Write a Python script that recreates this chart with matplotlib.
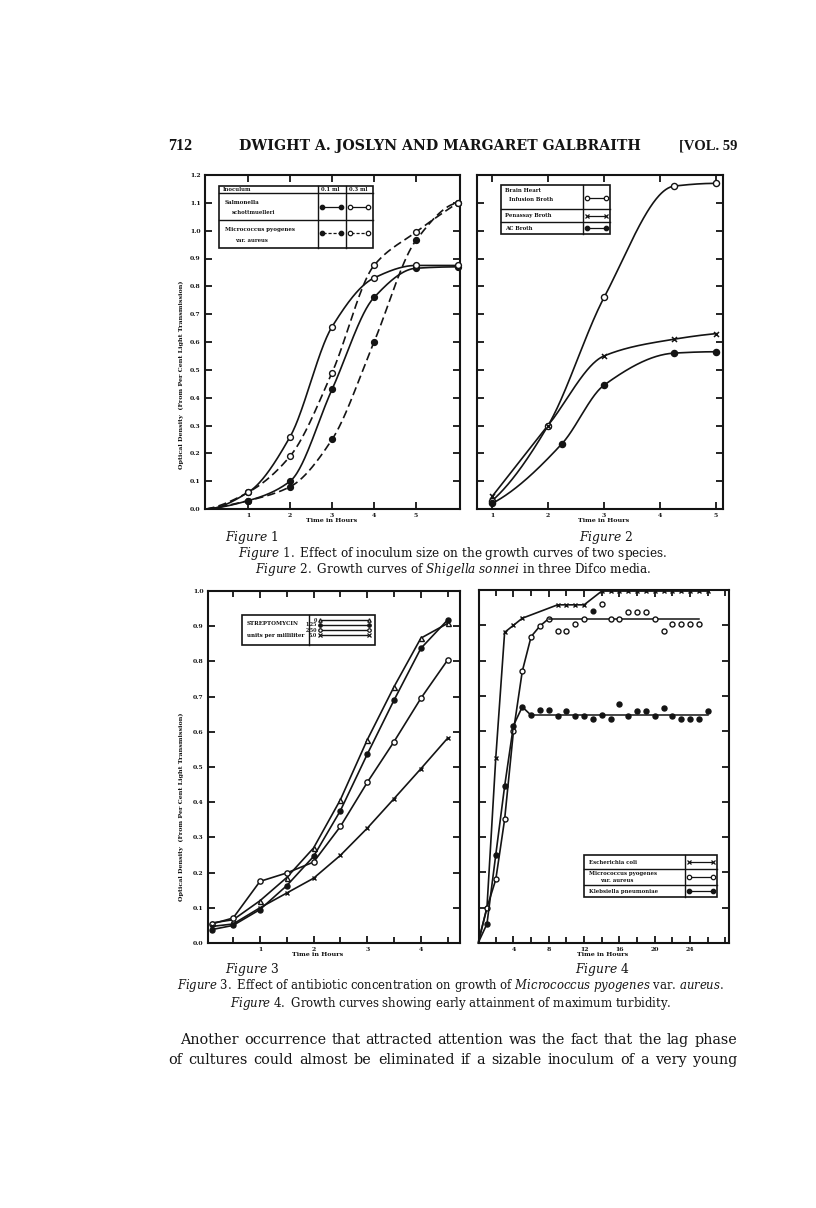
import numpy as np
import matplotlib
matplotlib.use("Agg")
import matplotlib.pyplot as plt
from matplotlib.lines import Line2D
from matplotlib.patches import Rectangle

plt.rcParams.update({
    "font.family": "DejaVu Serif",
    "mathtext.fontset": "custom",
    "mathtext.rm": "DejaVu Serif",
    "mathtext.it": "DejaVu Serif:italic",
    "mathtext.bf": "DejaVu Serif:bold",
})

# ---------------- data ----------------
# Figure 1: inoculum size
f1_hours = [0, 1, 2, 3, 4, 5, 6]
f1_salm_01 = [0.0, 0.03, 0.10, 0.43, 0.76, 0.865, 0.87]
f1_salm_03 = [0.0, 0.06, 0.26, 0.655, 0.83, 0.875, 0.875]
f1_micro_01 = [0.0, 0.03, 0.08, 0.25, 0.60, 0.965, 1.10]
f1_micro_03 = [0.0, 0.06, 0.19, 0.49, 0.875, 0.995, 1.10]
f1_xticks = [1, 2, 3, 4, 5]
f1_yticks = [0.0, 0.1, 0.2, 0.3, 0.4, 0.5, 0.6, 0.7, 0.8, 0.9, 1.0, 1.1, 1.2]
f1_ylabels = ["0.0", "0.1", "0.2", "0.3", "0.4", "0.5", "0.6", "0.7", "0.8",
              "0.9", "1.0", "1.1", "1.2"]

# Figure 2: Shigella sonnei in three media
f2_bh_t = [1, 2, 3, 4.25, 5]
f2_bh = [0.03, 0.30, 0.76, 1.16, 1.17]
f2_pen_t = [1, 2, 3, 4.25, 5]
f2_pen = [0.045, 0.30, 0.55, 0.61, 0.63]
f2_ac_t = [1, 2.25, 3, 4.25, 5]
f2_ac = [0.02, 0.235, 0.445, 0.56, 0.565]
f2_xticks = [1, 2, 3, 4, 5]

# Figure 3: streptomycin
f3_t = [0.1, 0.5, 1.0, 1.5, 2.0, 2.5, 3.0, 3.5, 4.0, 4.5]
f3_s0 = [0.057, 0.066, 0.12, 0.186, 0.27, 0.407, 0.577, 0.728, 0.866, 0.908]
f3_s125 = [0.038, 0.05, 0.095, 0.163, 0.246, 0.376, 0.536, 0.69, 0.837, 0.918]
f3_s250 = [0.054, 0.071, 0.175, 0.199, 0.23, 0.331, 0.456, 0.572, 0.695, 0.804]
f3_s50 = [0.047, 0.054, 0.10, 0.142, 0.184, 0.249, 0.326, 0.41, 0.495, 0.582]
f3_xticks = [1, 2, 3, 4]
f3_yticks = [0.0, 0.1, 0.2, 0.3, 0.4, 0.5, 0.6, 0.7, 0.8, 0.9, 1.0]
f3_ylabels = ["0.0", "0.1", "0.2", "0.3", "0.4", "0.5", "0.6", "0.7", "0.8",
              "0.9", "1.0"]

# Figure 4: early attainment of maximum turbidity
f4_ecoli_t = [0, 1, 2, 3, 4, 5, 9, 10, 11, 12, 14, 15, 16, 17, 18, 19, 20,
              21, 22, 23, 24, 25, 26]
f4_ecoli = [0.0, 0.10, 0.525, 0.88, 0.90, 0.92, 0.958, 0.958, 0.958, 0.958,
            0.997, 0.997, 0.997, 0.997, 0.997, 0.997, 0.997, 0.997, 0.997,
            0.997, 0.997, 0.997, 0.997]
f4_micro_t = [0, 1, 2, 3, 4, 5, 6, 7, 8]
f4_micro = [0.0, 0.10, 0.18, 0.35, 0.60, 0.77, 0.868, 0.898, 0.919]
f4_micro_level = 0.919
f4_micro_end = 25
f4_micro_on_t = [12, 15, 16, 20]
f4_micro_off_t = [9, 10, 11, 14, 17, 18, 19, 21, 22, 23, 24, 25]
f4_micro_off = [0.884, 0.884, 0.904, 0.961, 0.939, 0.939, 0.939, 0.884,
                0.904, 0.904, 0.905, 0.905]
f4_micro_dark_t = [13]
f4_micro_dark = [0.94]
f4_kleb_t = [0, 1, 2, 3, 4, 5, 6]
f4_kleb = [0.0, 0.054, 0.25, 0.444, 0.616, 0.669, 0.645]
f4_kleb_level = 0.645
f4_kleb_end = 26
f4_kleb_pt_t = [7, 8, 9, 10, 11, 12, 13, 14, 15, 16, 17, 18, 19, 20, 21, 22,
                23, 24, 25, 26]
f4_kleb_pt = [0.659, 0.659, 0.644, 0.656, 0.644, 0.644, 0.634, 0.646, 0.634,
              0.678, 0.644, 0.656, 0.656, 0.644, 0.666, 0.644, 0.634, 0.634,
              0.634, 0.656]
f4_xticks = [4, 8, 12, 16, 20, 24]
f4_xminor = [2, 6, 10, 14, 18, 22, 26, 28]

body_lines = [
    "Another occurrence that attracted attention was the fact that the lag phase",
    "of cultures could almost be eliminated if a sizable inoculum of a very young",
]

# ---------------- helpers ----------------
W, H = 816, 1208
INK = "#141414"
fig = plt.figure(figsize=(W / 100, H / 100), dpi=100)
fig.patch.set_facecolor("white")


def add_ax(l, t, r, b):
    return fig.add_axes([l / W, 1 - b / H, (r - l) / W, (b - t) / H])


def pchip(x, y, xs):
    x = np.asarray(x, float)
    y = np.asarray(y, float)
    h = np.diff(x)
    d = np.diff(y) / h
    n = len(x)
    m = np.zeros(n)
    for k in range(1, n - 1):
        if d[k - 1] * d[k] > 0:
            w1 = 2 * h[k] + h[k - 1]
            w2 = h[k] + 2 * h[k - 1]
            m[k] = (w1 + w2) / (w1 / d[k - 1] + w2 / d[k])
    m0 = ((2 * h[0] + h[1]) * d[0] - h[0] * d[1]) / (h[0] + h[1])
    if np.sign(m0) != np.sign(d[0]):
        m0 = 0
    m[0] = m0
    mn = ((2 * h[-1] + h[-2]) * d[-1] - h[-1] * d[-2]) / (h[-1] + h[-2])
    if np.sign(mn) != np.sign(d[-1]):
        mn = 0
    m[-1] = mn
    xs = np.asarray(xs, float)
    i = np.clip(np.searchsorted(x, xs) - 1, 0, n - 2)
    t = (xs - x[i]) / h[i]
    h00 = 2 * t**3 - 3 * t**2 + 1
    h10 = t**3 - 2 * t**2 + t
    h01 = -2 * t**3 + 3 * t**2
    h11 = t**3 - t**2
    return h00 * y[i] + h10 * h[i] * m[i] + h01 * y[i + 1] + h11 * h[i] * m[i + 1]


def style_axes(ax):
    for s in ax.spines.values():
        s.set_linewidth(1.5)
        s.set_color(INK)
    ax.tick_params(which="both", direction="in", top=True, right=True,
                   color=INK, width=1.3, labelsize=4.4, pad=3)
    ax.tick_params(which="major", length=5)
    ax.tick_params(which="minor", length=4)
    for lab in ax.get_xticklabels() + ax.get_yticklabels():
        lab.set_fontweight("bold")
        lab.set_color(INK)


def ftext(x, y, s, size=4.2, weight="bold", ha="left", va="center", **kw):
    return fig.text(x / W, 1 - y / H, s, fontsize=size, fontweight=weight,
                    ha=ha, va=va, color=INK, **kw)


def fline(x0, x1, y, ls="-", lw=1.0):
    fig.add_artist(Line2D([x0 / W, x1 / W], [1 - y / H, 1 - y / H],
                          color=INK, lw=lw, ls=ls))


def fmark(x, y, marker, filled, ms=3.2):
    fig.add_artist(Line2D([x / W], [1 - y / H], marker=marker, ms=ms,
                          mfc=INK if filled else "white", mec=INK, mew=0.9,
                          ls="none"))


def fbox(l, t, r, b, lw=1.2):
    fig.add_artist(Rectangle((l / W, 1 - b / H), (r - l) / W, (b - t) / H,
                             fill=False, ec=INK, lw=lw))


def fvline(x, t, b, lw=1.0):
    fig.add_artist(Line2D([x / W, x / W], [1 - t / H, 1 - b / H],
                          color=INK, lw=lw))


def justify(x0, x1, y, s, size):
    r = fig.canvas.get_renderer()
    words = s.split()
    ts = [ftext(0, y, w, size=size, weight="normal") for w in words]
    widths = [t.get_window_extent(r).width for t in ts]
    gap = (x1 - x0 - sum(widths)) / (len(words) - 1)
    x = x0
    for t, w in zip(ts, widths):
        t.set_x(x / W)
        x += w + gap


# ---------------- Figure 1 ----------------
ax1 = add_ax(205, 175, 460, 509)
ax1.set_xlim(-0.03, 6.05)
ax1.set_ylim(0, 1.2)
xs = np.linspace(0, 6, 300)
curves1 = [(f1_salm_01, "-", True), (f1_salm_03, "-", False),
           (f1_micro_01, (0, (5, 2.5)), True), (f1_micro_03, (0, (5, 2.5)), False)]
for vals, ls, filled in curves1:
    ax1.plot(xs, pchip(f1_hours, vals, xs), color=INK, lw=1.2, ls=ls)
    ax1.plot(f1_hours[1:], vals[1:], ls="none", marker="o", ms=4.2,
             mfc=INK if filled else "white", mec=INK, mew=1.0, clip_on=False,
             zorder=5)
ax1.set_xticks(f1_xticks)
ax1.set_xticklabels([str(v) for v in f1_xticks])
ax1.set_yticks(f1_yticks)
ax1.set_yticklabels(f1_ylabels)
style_axes(ax1)
ftext(332, 520, "Time in Hours", size=4.6, ha="center")
ftext(181, 375, "Optical Density  (From Per Cent Light Transmission)",
      size=4.6, ha="center", rotation=90)

# legend table fig 1
fbox(219, 186, 373, 248)
fvline(318, 186, 248)
fvline(346, 186, 248)
fline(219, 373, 193.3, lw=1.0)
fline(219, 373, 220, lw=1.0)
ftext(223, 189.6, "Inoculum", size=3.8)
ftext(321, 189.6, "0.1 ml", size=3.8)
ftext(349, 189.6, "0.3 ml", size=3.8)
ftext(225, 202, "Salmonella", size=4.0)
ftext(232, 212, "schottmuelleri", size=3.8)
ftext(225, 230, "Micrococcus pyogenes", size=4.0)
ftext(235, 240, "var. aureus", size=3.8)
for y, ls in [(207, "-"), (233, (0, (2.5, 1.5)))]:
    fline(323, 340, y, ls=ls, lw=0.9)
    fline(351, 368, y, ls=ls, lw=0.9)
    fmark(322, y, "o", True)
    fmark(341, y, "o", True)
    fmark(350, y, "o", False)
    fmark(368, y, "o", False)

# ---------------- Figure 2 ----------------
ax2 = add_ax(477, 175, 723, 509)
ax2.set_xlim(0.73, 5.125)
ax2.set_ylim(0, 1.2)
for tt, vals, mk, filled in [(f2_bh_t, f2_bh, "o", False),
                             (f2_pen_t, f2_pen, "x", False),
                             (f2_ac_t, f2_ac, "o", True)]:
    xs2 = np.linspace(tt[0], tt[-1], 300)
    ax2.plot(xs2, pchip(tt, vals, xs2), color=INK, lw=1.2)
    if mk == "x":
        ax2.plot(tt, vals, ls="none", marker="x", ms=3.6, mec=INK, mew=1.1,
                 clip_on=False, zorder=5)
    else:
        ax2.plot(tt, vals, ls="none", marker="o", ms=4.4,
                 mfc=INK if filled else "white", mec=INK, mew=1.0,
                 clip_on=False, zorder=5)
ax2.set_xticks(f2_xticks)
ax2.set_xticklabels([str(v) for v in f2_xticks])
ax2.set_yticks(f1_yticks)
ax2.set_yticklabels([])
style_axes(ax2)
ftext(604, 520, "Time in Hours", size=4.6, ha="center")

fbox(500.7, 185, 610, 234)
fvline(583.3, 185, 234)
fline(500.7, 610, 209.3, lw=1.0)
fline(500.7, 610, 221.7, lw=1.0)
ftext(505, 191, "Brain Heart", size=3.9)
ftext(509, 199.5, "Infusion Broth", size=3.9)
ftext(505, 215.5, "Penassay Broth", size=3.9)
ftext(505, 228, "AC Broth", size=3.9)
fline(588, 605, 197.5, lw=0.9)
fmark(587, 197.5, "o", False)
fmark(606, 197.5, "o", False)
fline(588, 605, 215.5, lw=0.9)
fmark(587, 215.5, "x", False, ms=2.8)
fmark(606, 215.5, "x", False, ms=2.8)
fline(588, 605, 228, lw=0.9)
fmark(587, 228, "o", True)
fmark(606, 228, "o", True)

# ---------------- Figure 3 ----------------
ax3 = add_ax(207.7, 591, 460, 943)
ax3.set_xlim(0.026, 4.73)
ax3.set_ylim(0, 1.0)
for vals, mk, filled, ms in [(f3_s0, "^", False, 3.6), (f3_s125, "o", True, 3.6),
                             (f3_s250, "o", False, 3.8), (f3_s50, "x", False, 3.2)]:
    ax3.plot(f3_t, vals, color=INK, lw=1.2, marker=mk, ms=ms,
             mfc=INK if filled else "white", mec=INK, mew=1.0, clip_on=False)
ax3.set_xticks(f3_xticks)
ax3.set_xticklabels([str(v) for v in f3_xticks])
ax3.set_xticks([0.5, 1.5, 2.5, 3.5, 4.5], minor=True)
ax3.set_yticks(f3_yticks)
ax3.set_yticklabels(f3_ylabels)
style_axes(ax3)
ftext(318, 954, "Time in Hours", size=4.6, ha="center")
ftext(181, 807, "Optical Density  (From Per Cent Light Transmission)",
      size=4.6, ha="center", rotation=90)

fbox(241.7, 615, 375, 645)
fvline(309, 615, 645)
ftext(247, 623.3, "STREPTOMYCIN", size=4.0)
ftext(247, 635, "units per milliliter", size=4.0)
leg3 = [("0", "^", False), ("1.25", "o", True), ("2.50", "o", False), ("5.0", "x", False)]
for k, (lab, mk, filled) in enumerate(leg3):
    y = 620 + k * 5
    ftext(317, y, lab, size=3.4, ha="right")
    fline(322, 367, y, lw=1.0)
    fmark(320, y, mk, filled, ms=2.5)
    fmark(369, y, mk, filled, ms=2.5)

# ---------------- Figure 4 ----------------
ax4 = add_ax(479, 590, 729, 943)
ax4.set_xlim(0.1, 28.4)
ax4.set_ylim(0, 1.0)
ax4.plot(f4_ecoli_t, f4_ecoli, color=INK, lw=1.2, marker="x", ms=3.0,
         mew=1.0, markevery=list(range(1, len(f4_ecoli_t))), clip_on=False)
ax4.plot(f4_micro_t, f4_micro, color=INK, lw=1.2, marker="o", ms=3.6,
         mfc="white", mec=INK, mew=1.0, markevery=list(range(1, len(f4_micro_t))))
ax4.plot([f4_micro_t[-1], f4_micro_end], [f4_micro_level, f4_micro_level],
         color=INK, lw=1.1)
ax4.plot(f4_micro_on_t, [f4_micro_level] * len(f4_micro_on_t), ls="none",
         marker="o", ms=3.6, mfc="white", mec=INK, mew=1.0)
ax4.plot(f4_micro_off_t, f4_micro_off, ls="none", marker="o", ms=3.6,
         mfc="white", mec=INK, mew=1.0)
ax4.plot(f4_micro_dark_t, f4_micro_dark, ls="none", marker="o", ms=3.4,
         mfc=INK, mec=INK)
ax4.plot(f4_kleb_t, f4_kleb, color=INK, lw=1.2, marker="o", ms=3.6,
         mfc=INK, mec=INK, markevery=list(range(1, len(f4_kleb_t))))
ax4.plot([f4_kleb_t[-1], f4_kleb_end], [f4_kleb_level, f4_kleb_level],
         color=INK, lw=1.1)
ax4.plot(f4_kleb_pt_t, f4_kleb_pt, ls="none", marker="o", ms=3.6,
         mfc=INK, mec=INK)
ax4.set_xticks(f4_xticks)
ax4.set_xticklabels([str(v) for v in f4_xticks])
ax4.set_xticks(f4_xminor, minor=True)
ax4.set_yticks(f3_yticks)
ax4.set_yticklabels([])
style_axes(ax4)
ftext(603, 954, "Time in Hours", size=4.6, ha="center")

fbox(584, 855, 717.3, 896.7)
fvline(685, 855, 896.7)
fline(584, 717.3, 869.3, lw=1.0)
fline(584, 717.3, 885, lw=1.0)
ftext(589, 862, "Escherichia coli", size=3.9)
ftext(589, 874, "Micrococcus pyogenes", size=3.9)
ftext(600, 880.5, "var. aureus", size=3.9)
ftext(589, 891, "Klebsiella pneumoniae", size=3.9)
fline(690, 712, 862, lw=0.9)
fmark(689, 862, "x", False, ms=2.8)
fmark(713, 862, "x", False, ms=2.8)
fline(690, 712, 877, lw=0.9)
fmark(689, 877, "o", False)
fmark(713, 877, "o", False)
fline(690, 712, 891, lw=0.9)
fmark(689, 891, "o", True)
fmark(713, 891, "o", True)

# ---------------- page text ----------------
ftext(168, 146, "712", size=11.5, weight="bold", ha="left",
      family="Liberation Serif")
ftext(440, 146, "DWIGHT A. JOSLYN AND MARGARET GALBRAITH", size=10.2,
      weight="bold", ha="center")
ftext(737, 146, "[VOL. 59", size=10.5, weight="bold", ha="right",
      family="Liberation Serif")

ftext(252, 537, "$\\mathit{Figure\\ 1}$", size=8.8, weight="normal", ha="center")
ftext(606, 537, "$\\mathit{Figure\\ 2}$", size=8.8, weight="normal", ha="center")
ftext(453, 553, "$\\mathit{Figure\\ 1.}$ Effect of inoculum size on the growth curves of two species.",
      size=8.65, weight="normal", ha="center")
ftext(453, 570, "$\\mathit{Figure\\ 2.}$ Growth curves of $\\mathit{Shigella\\ sonnei}$ in three Difco media.",
      size=8.65, weight="normal", ha="center")

ftext(252, 969, "$\\mathit{Figure\\ 3}$", size=8.8, weight="normal", ha="center")
ftext(602, 969, "$\\mathit{Figure\\ 4}$", size=8.8, weight="normal", ha="center")
ftext(451, 986, "$\\mathit{Figure\\ 3.}$ Effect of antibiotic concentration on growth of $\\mathit{Micrococcus\\ pyogenes}$ var. $\\mathit{aureus.}$",
      size=8.4, weight="normal", ha="center")
ftext(451, 1003, "$\\mathit{Figure\\ 4.}$ Growth curves showing early attainment of maximum turbidity.",
      size=8.5, weight="normal", ha="center")

justify(180, 737, 1040, body_lines[0], 10.4)
justify(168, 737, 1060, body_lines[1], 10.4)

fig.savefig("out.png", dpi=100, facecolor="white")
